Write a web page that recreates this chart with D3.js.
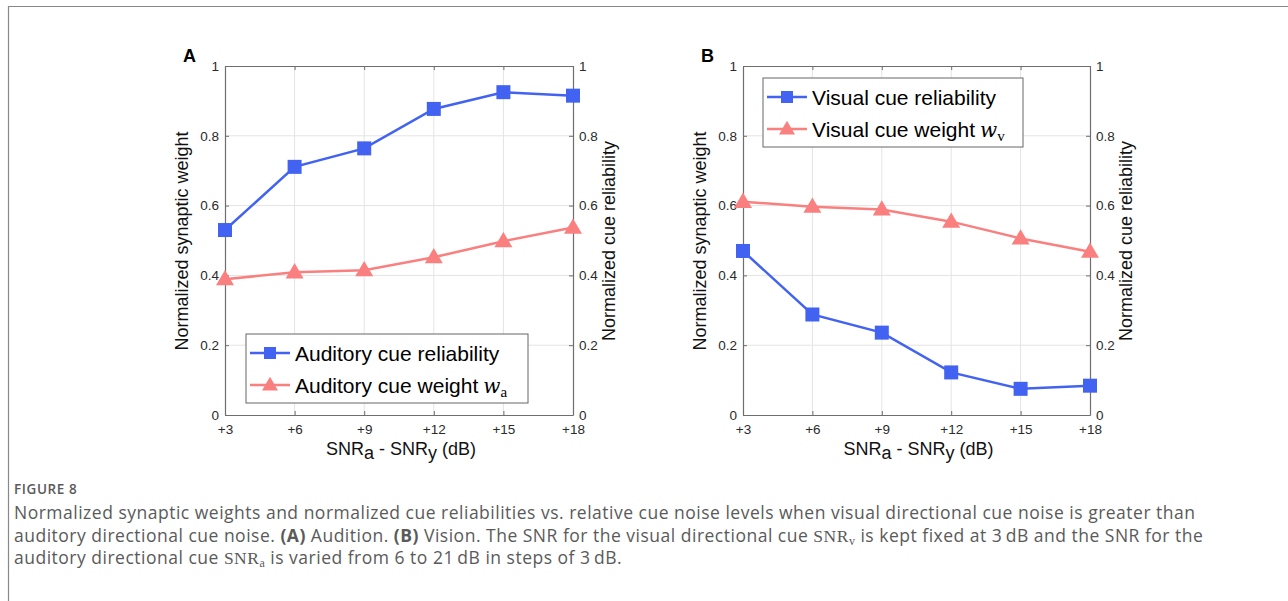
<!DOCTYPE html>
<html>
<head>
<meta charset="utf-8">
<script src="https://cdn.jsdelivr.net/npm/d3@7"></script>
<style>
  body { margin: 0; background: #fff; }
  svg { display: block; }
</style>
</head>
<body>
<svg id="fig" width="1288" height="601"></svg>
<script>
(function(){
  // data
  var snrSteps = [3, 6, 9, 12, 15, 18];
  var snrLabels = ['+3', '+6', '+9', '+12', '+15', '+18'];
  var yTicks = [0, 0.2, 0.4, 0.6, 0.8, 1];
  var yTickLabels = ['0', '0.2', '0.4', '0.6', '0.8', '1'];

  var audReliability = [0.530, 0.711, 0.764, 0.877, 0.925, 0.915];
  var audWeight = [0.389, 0.409, 0.415, 0.452, 0.498, 0.537];
  var visReliability = [0.470, 0.288, 0.236, 0.122, 0.075, 0.084];
  var visWeight = [0.611, 0.597, 0.589, 0.554, 0.506, 0.468];

  var blue = '#4263f2';
  var pink = '#fa8080';

  var svg = d3.select('#fig');

  // outer frame of the figure (only left and top visible)
  svg.append('path')
    .attr('d', 'M8.5,610 L8.5,6.5 L1300,6.5')
    .attr('fill', 'none')
    .attr('stroke', '#888')
    .attr('stroke-width', 1.2);

  // Helpers
  function square(g, x, y, s, color) {
    g.append('rect')
      .attr('x', x - s / 2).attr('y', y - s / 2)
      .attr('width', s).attr('height', s)
      .attr('fill', color);
  }
  function triangle(g, x, y, w, color) {
    var h = w * 0.85;
    g.append('path')
      .attr('d', 'M' + x + ',' + (y - h * 0.6) + ' L' + (x + w / 2) + ',' + (y + h * 0.4) +
        ' L' + (x - w / 2) + ',' + (y + h * 0.4) + 'Z')
      .attr('fill', color);
  }

  // Construction
  function drawPanel(p) {
    var x = d3.scaleLinear().domain([3, 18]).range([p.left, p.right]);
    var y = d3.scaleLinear().domain([0, 1]).range([415, 66]);
    var g = svg.append('g').attr('font-family', 'Liberation Sans, Arial, sans-serif');

    // grid
    g.append('g').selectAll('line.vg').data(snrSteps.slice(1, -1)).enter()
      .append('line')
      .attr('x1', function(d) { return x(d); }).attr('x2', function(d) { return x(d); })
      .attr('y1', y(0)).attr('y2', y(1))
      .attr('stroke', '#e4e4e4').attr('stroke-width', 1);
    g.append('g').selectAll('line.hg').data(yTicks.slice(1, -1)).enter()
      .append('line')
      .attr('x1', x(3)).attr('x2', x(18))
      .attr('y1', function(d) { return y(d); }).attr('y2', function(d) { return y(d); })
      .attr('stroke', '#e4e4e4').attr('stroke-width', 1);

    // axes
    var bottom = g.append('g').attr('transform', 'translate(0,' + y(0) + ')')
      .call(d3.axisBottom(x).tickValues(snrSteps).tickFormat(function(d, i) { return snrLabels[i]; })
        .tickSizeInner(-4).tickSizeOuter(0).tickPadding(9));
    var top = g.append('g').attr('transform', 'translate(0,' + y(1) + ')')
      .call(d3.axisTop(x).tickValues(snrSteps).tickFormat('').tickSizeInner(-4).tickSizeOuter(0));
    var left = g.append('g').attr('transform', 'translate(' + x(3) + ',0)')
      .call(d3.axisLeft(y).tickValues(yTicks).tickFormat(function(d, i) { return yTickLabels[i]; })
        .tickSizeInner(-4).tickSizeOuter(0).tickPadding(7));
    var right = g.append('g').attr('transform', 'translate(' + x(18) + ',0)')
      .call(d3.axisRight(y).tickValues(yTicks).tickFormat(function(d, i) { return yTickLabels[i]; })
        .tickSizeInner(-4).tickSizeOuter(0).tickPadding(7));
    [bottom, top, left, right].forEach(function(a) {
      a.attr('font-size', 13).attr('font-family', 'Liberation Sans, Arial, sans-serif');
      a.select('.domain').attr('stroke', '#6e6e6e').attr('stroke-width', 1.2);
      a.selectAll('.tick line').attr('stroke', '#6e6e6e');
      a.selectAll('.tick text').attr('fill', '#2b2b2b').style('font-size', '13.5px');
    });
    right.selectAll('.tick text').attr('x', 6);
    left.selectAll('.tick text').attr('x', -6);

    // series
    var line = d3.line()
      .x(function(d, i) { return x(snrSteps[i]); })
      .y(function(d) { return y(d); });
    g.append('path').datum(p.weight).attr('d', line)
      .attr('fill', 'none').attr('stroke', pink).attr('stroke-width', 2.5);
    g.append('path').datum(p.reliability).attr('d', line)
      .attr('fill', 'none').attr('stroke', blue).attr('stroke-width', 2.5);
    p.weight.forEach(function(v, i) { triangle(g, x(snrSteps[i]), y(v), 18, pink); });
    p.reliability.forEach(function(v, i) { square(g, x(snrSteps[i]), y(v), 14, blue); });

    // panel letter
    g.append('text').attr('x', p.left - 42).attr('y', 62)
      .attr('font-size', 18).attr('font-weight', 'bold').attr('fill', '#000')
      .text(p.letter);

    // axis titles
    g.append('text')
      .attr('transform', 'translate(' + (p.left - 37.5) + ',241) rotate(-90)')
      .attr('text-anchor', 'middle').attr('font-size', 18).attr('fill', '#111')
      .text('Normalized synaptic weight');
    g.append('text')
      .attr('transform', 'translate(' + (p.right + 42) + ',241) rotate(-90)')
      .attr('text-anchor', 'middle').attr('font-size', 18).attr('fill', '#111')
      .text('Normalized cue reliability');
    var xt = g.append('text')
      .attr('x', (p.left + p.right) / 2 + 2).attr('y', 455)
      .attr('text-anchor', 'middle').attr('font-size', 18).attr('fill', '#111');
    xt.append('tspan').text('SNR');
    xt.append('tspan').attr('dy', 4).text('a');
    xt.append('tspan').attr('dy', -4).text(' - SNR');
    xt.append('tspan').attr('dy', 4).text('y');
    xt.append('tspan').attr('dy', -4).text(' (dB)');

    // legend
    var L = p.legend;
    g.append('rect').attr('x', L.x).attr('y', L.y).attr('width', L.w).attr('height', L.h)
      .attr('fill', '#fff').attr('stroke', '#666').attr('stroke-width', 1);
    var rows = [
      { color: blue, kind: 'sq', label: p.names[0] },
      { color: pink, kind: 'tri', label: p.names[1], sub: p.sub }
    ];
    rows.forEach(function(r, i) {
      var cy = L.y + 19 + i * 32;
      g.append('line').attr('x1', L.x + 4).attr('x2', L.x + 44)
        .attr('y1', cy).attr('y2', cy).attr('stroke', r.color).attr('stroke-width', 2.5);
      if (r.kind === 'sq') square(g, L.x + 24, cy, 12, r.color);
      else triangle(g, L.x + 24, cy, 16, r.color);
      var t = g.append('text').attr('x', L.x + 49).attr('y', cy + 7.5)
        .attr('font-size', 21).attr('fill', '#000').text(r.label);
      if (r.sub) {
        t.append('tspan').attr('font-family', 'DejaVu Serif, Liberation Serif, serif')
          .attr('font-style', 'italic').attr('font-size', 20).attr('dx', 5).text('w');
        t.append('tspan').attr('font-family', 'Liberation Serif, serif')
          .attr('font-size', 15).attr('dy', 4).text(r.sub);
      }
    });
  }

  drawPanel({
    letter: 'A', left: 225, right: 573,
    reliability: audReliability, weight: audWeight,
    names: ['Auditory cue reliability', 'Auditory cue weight'], sub: 'a',
    legend: { x: 246, y: 334, w: 282, h: 69 }
  });
  drawPanel({
    letter: 'B', left: 743, right: 1090,
    reliability: visReliability, weight: visWeight,
    names: ['Visual cue reliability', 'Visual cue weight'], sub: 'v',
    legend: { x: 763, y: 78, w: 260, h: 69 }
  });

  // caption
  var cap = svg.append('g').attr('font-family', 'Open Sans, Noto Sans, sans-serif').attr('fill', '#5a5a5a');
  cap.append('text').attr('x', 14).attr('y', 494).attr('font-size', 13.5).attr('font-weight', 600)
    .attr('letter-spacing', 0.6).text('FIGURE 8');
  var lines = [
    [{ t: 'Normalized synaptic weights and normalized cue reliabilities vs. relative cue noise levels when visual directional cue noise is greater than' }],
    [{ t: 'auditory directional cue noise. ' }, { t: '(A)', b: true }, { t: ' Audition. ' }, { t: '(B)', b: true },
     { t: ' Vision. The SNR for the visual directional cue ' }, { t: 'SNR', serif: true }, { t: 'v', serif: true, sub: true },
     { t: ' is kept fixed at 3\u2009dB and the SNR for the' }],
    [{ t: 'auditory directional cue ' }, { t: 'SNR', serif: true }, { t: 'a', serif: true, sub: true },
     { t: ' is varied from 6 to 21\u2009dB in steps of 3\u2009dB.' }]
  ];
  lines.forEach(function(parts, i) {
    var t = cap.append('text').attr('x', 14).attr('y', 519 + i * 22.7)
      .attr('font-size', 17.5).attr('letter-spacing', 0.5);
    var shifted = false;
    parts.forEach(function(s) {
      var ts = t.append('tspan').text(s.t);
      if (s.b) ts.attr('font-weight', 700);
      if (s.serif) ts.attr('font-family', 'Liberation Serif, serif');
      if (s.sub) { ts.attr('font-size', 12).attr('dy', 3); shifted = true; }
      else if (shifted) { ts.attr('dy', -3); shifted = false; }
    });
  });
})();
</script>
</body>
</html>
